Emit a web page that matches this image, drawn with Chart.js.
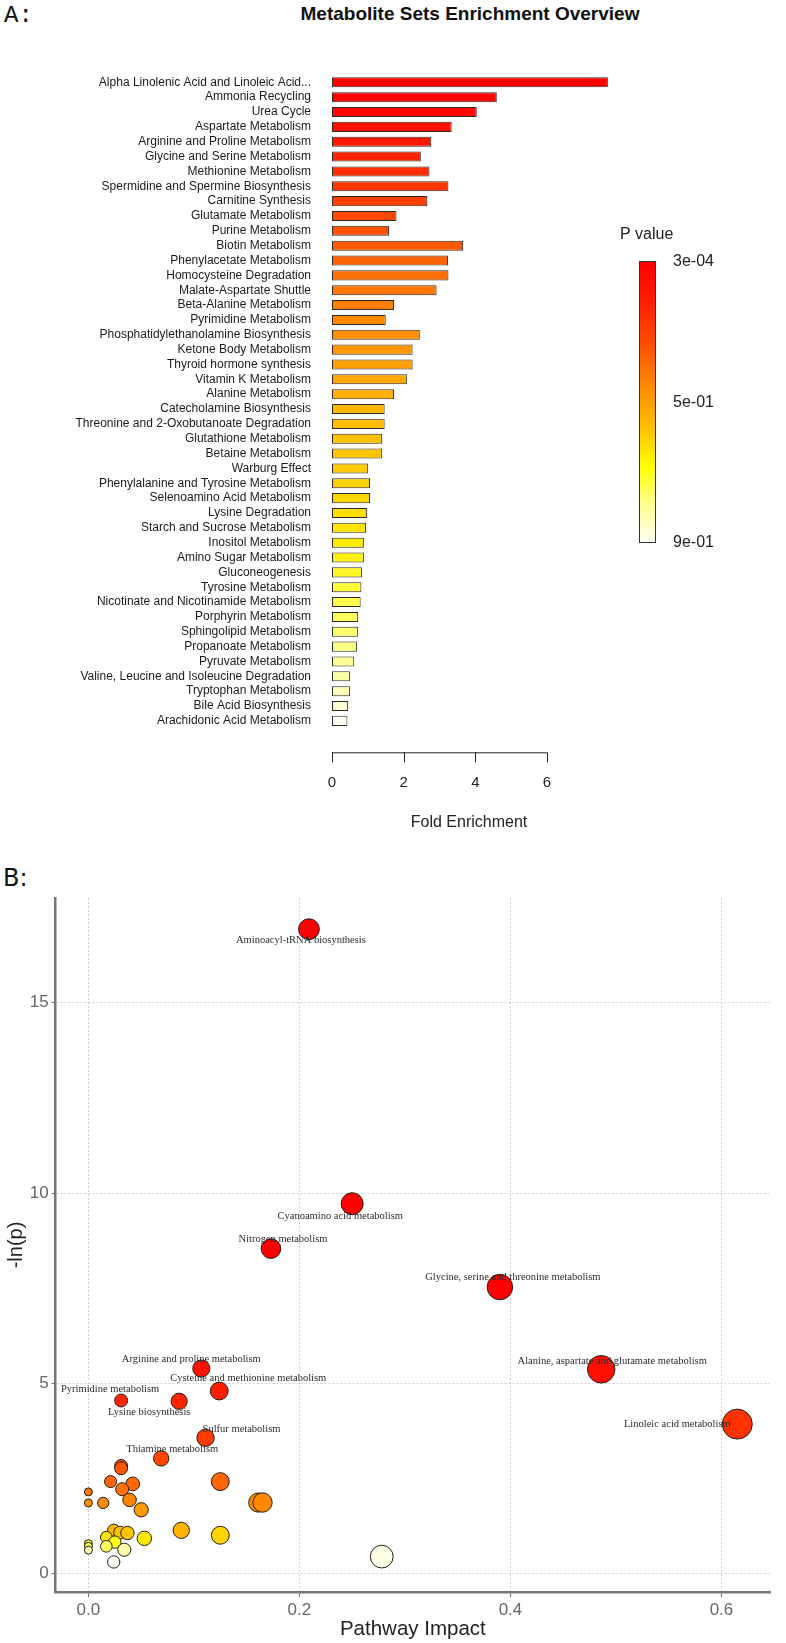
<!DOCTYPE html>
<html>
<head>
<meta charset="utf-8">
<script src="https://cdn.jsdelivr.net/npm/chart.js@4.4.1/dist/chart.umd.min.js"></script>
<style>
  html, body { margin: 0; padding: 0; background: #fff; }
  #page { position: relative; width: 786px; height: 1643px; overflow: hidden; }
  canvas { position: absolute; left: 0; }
  .txt { position: absolute; white-space: nowrap; color: #111; }
</style>
</head>
<body>
<div id="page">
  <div class="txt" style="left:4px; top:2px; font:24px 'Liberation Mono';">A:</div>
  <div class="txt" style="left:270px; top:3px; width:400px; text-align:center; font:bold 19px 'Liberation Sans'; line-height:22px;">Metabolite Sets Enrichment Overview</div>
  <canvas id="enrichChart" width="786" height="850" style="top:0"></canvas>
  <div class="txt" style="left:3px; top:864px; font:24px 'DejaVu Sans';">B:</div>
  <canvas id="pathwayChart" width="786" height="793" style="top:850px"></canvas>
</div>
<script>
// ---- panel A data ----
const metaboliteSets = [
  'Alpha Linolenic Acid and Linoleic Acid...', 'Ammonia Recycling', 'Urea Cycle', 'Aspartate Metabolism',
  'Arginine and Proline Metabolism', 'Glycine and Serine Metabolism', 'Methionine Metabolism',
  'Spermidine and Spermine Biosynthesis', 'Carnitine Synthesis', 'Glutamate Metabolism', 'Purine Metabolism',
  'Biotin Metabolism', 'Phenylacetate Metabolism', 'Homocysteine Degradation', 'Malate-Aspartate Shuttle',
  'Beta-Alanine Metabolism', 'Pyrimidine Metabolism', 'Phosphatidylethanolamine Biosynthesis',
  'Ketone Body Metabolism', 'Thyroid hormone synthesis', 'Vitamin K Metabolism', 'Alanine Metabolism',
  'Catecholamine Biosynthesis', 'Threonine and 2-Oxobutanoate Degradation', 'Glutathione Metabolism',
  'Betaine Metabolism', 'Warburg Effect', 'Phenylalanine and Tyrosine Metabolism', 'Selenoamino Acid Metabolism',
  'Lysine Degradation', 'Starch and Sucrose Metabolism', 'Inositol Metabolism', 'Amino Sugar Metabolism',
  'Gluconeogenesis', 'Tyrosine Metabolism', 'Nicotinate and Nicotinamide Metabolism', 'Porphyrin Metabolism',
  'Sphingolipid Metabolism', 'Propanoate Metabolism', 'Pyruvate Metabolism',
  'Valine, Leucine and Isoleucine Degradation', 'Tryptophan Metabolism', 'Bile Acid Biosynthesis',
  'Arachidonic Acid Metabolism'
];
const foldEnrichment = [
  7.70, 4.60, 4.04, 3.34, 2.77, 2.48, 2.72, 3.25, 2.66, 1.80, 1.59,
  3.66, 3.24, 3.25, 2.92, 1.73, 1.50, 2.45, 2.25, 2.25, 2.09, 1.73,
  1.47, 1.47, 1.40, 1.40, 1.01, 1.06, 1.06, 0.98, 0.95, 0.89, 0.89,
  0.84, 0.82, 0.80, 0.73, 0.73, 0.70, 0.62, 0.50, 0.50, 0.45, 0.43
];
const foldTicks = [0, 2, 4, 6];
const pValueTicks = ['3e-04', '5e-01', '9e-01'];

// ---- panel B data ----
const pathwayNames = [
  'Aminoacyl-tRNA biosynthesis', 'Cyanoamino acid metabolism', 'Nitrogen metabolism',
  'Glycine, serine and threonine metabolism', 'Arginine and proline metabolism',
  'Alanine, aspartate and glutamate metabolism', 'Cysteine and methionine metabolism',
  'Pyrimidine metabolism', 'Lysine biosynthesis', 'Linoleic acid metabolism', 'Sulfur metabolism',
  'Thiamine metabolism',
  '', '', '', '', '', '', '', '', '', '', '', '', '', '', '', '', '', '', '', '', '', '', '', '', '', '', '', ''
];
const pathwayImpact = [
  0.209, 0.250, 0.173, 0.390, 0.107, 0.486, 0.124, 0.031, 0.086, 0.615, 0.111, 0.069,
  0.031, 0.031, 0.021, 0.125, 0.042, 0.032, 0.000, 0.039, 0.161, 0.165, 0.000, 0.014,
  0.050, 0.024, 0.088, 0.030, 0.037, 0.125, 0.017, 0.053, 0.025, 0.000, 0.000, 0.017,
  0.034, 0.000, 0.278, 0.024
];
const negLogP = [
  16.93, 9.72, 8.54, 7.53, 5.39, 5.37, 4.80, 4.55, 4.53, 3.93, 3.57, 3.03,
  2.83, 2.77, 2.42, 2.42, 2.36, 2.22, 2.15, 1.94, 1.87, 1.87, 1.86, 1.86,
  1.68, 1.14, 1.14, 1.08, 1.07, 1.01, 0.96, 0.93, 0.83, 0.79, 0.72, 0.72,
  0.63, 0.62, 0.45, 0.31
];
const impactTicks = [0, 0.2, 0.4, 0.6];
const lnPTicks = [0, 5, 10, 15];

// label nudges in px (dx, dy) for the named pathways
const labelShift = [
  [-8, 11], [-12, 13], [12, -9], [13, -10], [-10, -9], [11, -8],
  [29, -13], [-11, -11], [-30, 11], [-60, 0], [36, -9], [11, -9]
];

// colour helpers
function hexRgb(h) {
  return [parseInt(h.slice(1, 3), 16), parseInt(h.slice(3, 5), 16), parseInt(h.slice(5, 7), 16)];
}
function mixStops(stops, v) {
  if (v <= stops[0][0]) return stops[0][1];
  for (let i = 1; i < stops.length; i++) {
    if (v <= stops[i][0]) {
      const a = stops[i - 1], b = stops[i];
      const f = (v - a[0]) / (b[0] - a[0]);
      const c1 = hexRgb(a[1]), c2 = hexRgb(b[1]);
      return 'rgb(' + c1.map((c, k) => Math.round(c + (c2[k] - c) * f)).join(',') + ')';
    }
  }
  return stops[stops.length - 1][1];
}

const barStops = [
  [0, '#ff0000'], [0.05, '#ff0800'], [0.35, '#ff8000'], [0.5, '#ffb400'], [0.63, '#ffd000'],
  [0.72, '#ffec00'], [0.8, '#ffff40'], [0.9, '#ffff90'], [0.95, '#ffffb8'], [1, '#fffff0']
];
const bubbleStops = [
  [0.3, '#fffff5'], [0.5, '#ffffe0'], [0.65, '#ffffa0'], [0.8, '#ffff20'], [0.95, '#ffe600'],
  [1.05, '#ffc800'], [1.2, '#ffa800'], [1.7, '#ff9800'], [1.9, '#ff8800'], [2.4, '#ff6600'],
  [3.0, '#ff4800'], [4.0, '#ff3000'], [4.6, '#ff2400'], [5.4, '#ff1000'], [7, '#ff0000']
];
const legendStops = [
  [0, '#ff0000'], [0.15, '#ff2000'], [0.3, '#ff5000'], [0.45, '#ff8c00'], [0.55, '#ffb000'],
  [0.65, '#ffd800'], [0.73, '#ffff00'], [0.85, '#ffff80'], [1, '#fffff5']
];

const barColors = foldEnrichment.map((v, i) => mixStops(barStops, i / (foldEnrichment.length - 1)));

// R-like axis under the bars plus the P value colour bar
const enrichExtras = {
  id: 'enrichExtras',
  afterDraw(chart) {
    const ctx = chart.ctx;
    const xs = chart.scales.x;
    const axisY = chart.chartArea.bottom + 24;
    const x0 = xs.getPixelForValue(foldTicks[0]);
    const x1 = xs.getPixelForValue(foldTicks[foldTicks.length - 1]);
    ctx.save();
    ctx.strokeStyle = '#222';
    ctx.lineWidth = 1;
    ctx.beginPath();
    ctx.moveTo(x0, axisY + 0.5);
    ctx.lineTo(x1, axisY + 0.5);
    foldTicks.forEach(t => {
      const px = Math.round(xs.getPixelForValue(t)) + 0.5;
      ctx.moveTo(px, axisY);
      ctx.lineTo(px, axisY + 10);
    });
    ctx.stroke();
    ctx.fillStyle = '#222';
    ctx.font = "15px 'Liberation Sans'";
    ctx.textAlign = 'center';
    ctx.textBaseline = 'middle';
    foldTicks.forEach(t => ctx.fillText(String(t), xs.getPixelForValue(t), axisY + 31));
    ctx.font = "16px 'Liberation Sans'";
    ctx.fillText('Fold Enrichment', 469, axisY + 70);

    // colour bar
    const cbX = 639, cbY = 261, cbW = 16, cbH = 281;
    const grad = ctx.createLinearGradient(0, cbY, 0, cbY + cbH);
    legendStops.forEach(s => grad.addColorStop(s[0], s[1]));
    ctx.fillStyle = grad;
    ctx.fillRect(cbX, cbY, cbW, cbH);
    ctx.strokeStyle = '#333';
    ctx.strokeRect(cbX + 0.5, cbY + 0.5, cbW, cbH);
    ctx.fillStyle = '#222';
    ctx.textAlign = 'left';
    ctx.font = "16px 'Liberation Sans'";
    ctx.fillText('P value', 620, 235);
    pValueTicks.forEach((lab, i) => {
      ctx.fillText(lab, 673, cbY + 1 + i * cbH / (pValueTicks.length - 1));
    });
    ctx.restore();
  }
};

new Chart(document.getElementById('enrichChart'), {
  type: 'bar',
  data: {
    labels: metaboliteSets,
    datasets: [{
      data: foldEnrichment,
      backgroundColor: barColors,
      borderColor: '#2a2a2a',
      borderWidth: 1,
      borderSkipped: false,
      barPercentage: 0.68,
      categoryPercentage: 1
    }]
  },
  options: {
    indexAxis: 'y',
    responsive: false,
    animation: false,
    devicePixelRatio: 1,
    layout: { padding: { left: 0, right: 167.4, top: 74.9, bottom: 121.7 } },
    plugins: { legend: { display: false }, tooltip: { enabled: false } },
    scales: {
      x: { display: false, min: 0, max: 8 },
      y: {
        afterFit: s => { s.width = 332; },
        grid: { display: false, drawTicks: false },
        border: { display: false },
        ticks: {
          autoSkip: false,
          padding: 21,
          color: '#1a1a1a',
          font: { family: 'Liberation Sans', size: 12 }
        }
      }
    }
  },
  plugins: [enrichExtras]
});

// ---- panel B ----
const pathwayLabels = {
  id: 'pathwayLabels',
  afterDatasetsDraw(chart) {
    const ctx = chart.ctx;
    const xs = chart.scales.x, ys = chart.scales.y;
    ctx.save();
    ctx.fillStyle = '#2a2a2a';
    ctx.font = "10.5px 'Liberation Serif'";
    ctx.textAlign = 'center';
    ctx.textBaseline = 'middle';
    pathwayNames.forEach((name, i) => {
      if (!name) return;
      const d = labelShift[i];
      ctx.fillText(name, xs.getPixelForValue(pathwayImpact[i]) + d[0], ys.getPixelForValue(negLogP[i]) + d[1]);
    });
    ctx.restore();
  }
};

new Chart(document.getElementById('pathwayChart'), {
  type: 'scatter',
  data: {
    datasets: [{
      data: pathwayImpact.map((x, i) => ({ x: x, y: negLogP[i] })),
      pointRadius: ctx => 4 + 14 * Math.sqrt(pathwayImpact[ctx.dataIndex] || 0),
      pointHoverRadius: ctx => 4 + 14 * Math.sqrt(pathwayImpact[ctx.dataIndex] || 0),
      backgroundColor: ctx => mixStops(bubbleStops, negLogP[ctx.dataIndex]),
      borderColor: '#1e1e1e',
      borderWidth: 1
    }]
  },
  options: {
    responsive: false,
    animation: false,
    devicePixelRatio: 1,
    layout: { padding: { left: 0, right: 0, top: 48, bottom: 0 } },
    plugins: { legend: { display: false }, tooltip: { enabled: false } },
    scales: {
      x: {
        type: 'linear',
        min: -0.031,
        max: 0.646,
        afterFit: s => { s.height = 51; },
        afterBuildTicks: s => { s.ticks = impactTicks.map(v => ({ value: v })); },
        grid: { color: '#cfcfcf', lineWidth: 1, tickLength: 5, tickColor: '#666' },
        border: { display: true, color: '#777', width: 2.5, dash: [2, 2] },
        ticks: {
          color: '#666',
          padding: 3,
          font: { family: 'Liberation Sans', size: 17 },
          callback: v => v.toFixed(1)
        },
        title: {
          display: true,
          text: 'Pathway Impact',
          color: '#222',
          font: { family: 'Liberation Sans', size: 20.5 },
          padding: { top: 0, bottom: 1 }
        }
      },
      y: {
        min: -0.48,
        max: 17.75,
        afterFit: s => { s.width = 55.7; },
        afterBuildTicks: s => { s.ticks = lnPTicks.map(v => ({ value: v })); },
        grid: { color: '#cfcfcf', lineWidth: 1, tickLength: 4, tickColor: '#666' },
        border: { display: true, color: '#777', width: 2.5, dash: [2, 2] },
        ticks: {
          color: '#666',
          padding: 3,
          font: { family: 'Liberation Sans', size: 17 }
        },
        title: {
          display: true,
          text: '-ln(p)',
          color: '#222',
          font: { family: 'Liberation Sans', size: 20 },
          padding: { top: 4, bottom: 0 }
        }
      }
    }
  },
  plugins: [pathwayLabels]
});
</script>
</body>
</html>
